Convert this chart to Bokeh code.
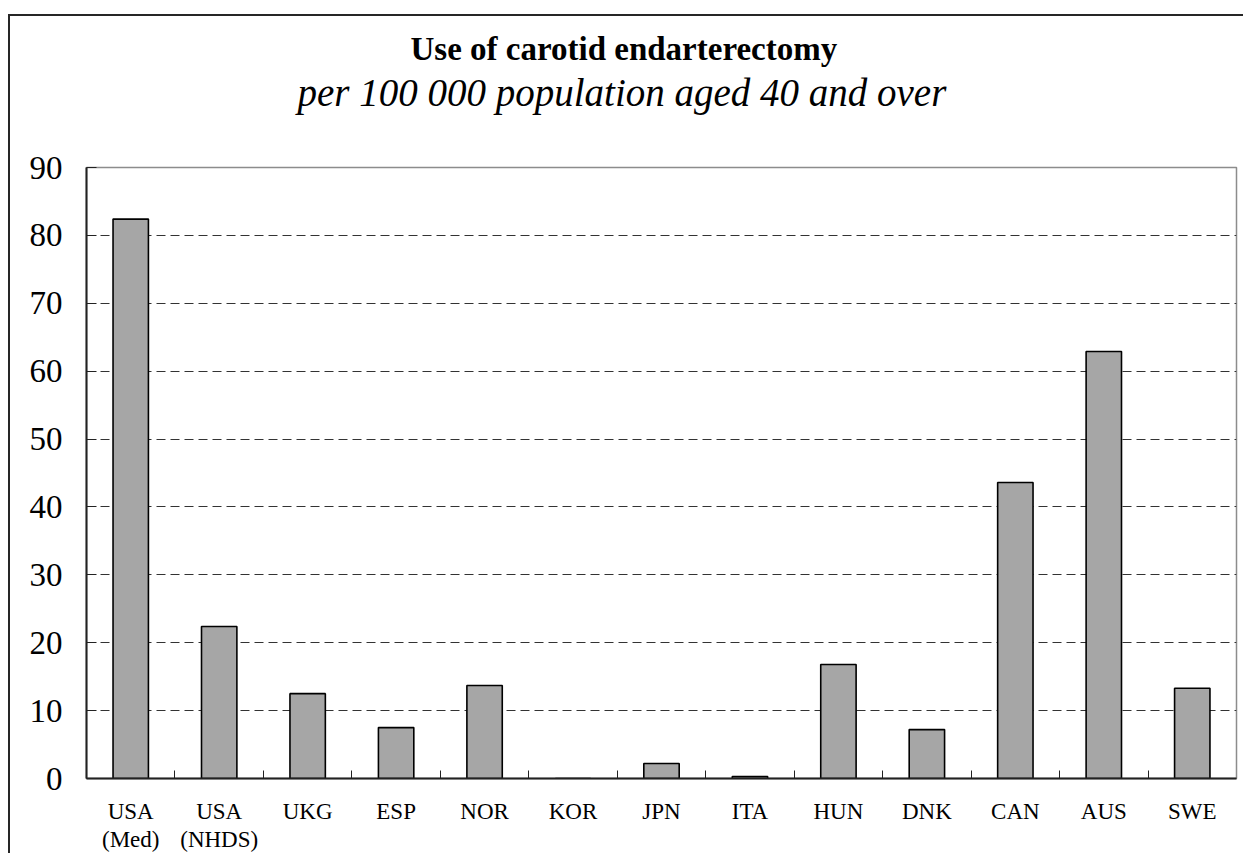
from bokeh.plotting import figure
from bokeh.models import Range1d, FixedTicker, Title
from bokeh.embed import file_html
from bokeh.resources import INLINE

# ---- data ----
countries = ["USA\n(Med)", "USA\n(NHDS)", "UKG", "ESP", "NOR", "KOR", "JPN",
             "ITA", "HUN", "DNK", "CAN", "AUS", "SWE"]
rates = [82.4, 22.4, 12.5, 7.5, 13.7, 0.0, 2.2, 0.3, 16.8, 7.2, 43.6, 62.9, 13.3]
y_ticks = [0, 10, 20, 30, 40, 50, 60, 70, 80, 90]
title_text = "Use of carotid endarterectomy"
subtitle_text = "per 100 000 population aged 40 and over"

FONT = "Liberation Serif"
n = len(countries)
centers = [i + 0.5 for i in range(n)]
bounds = [i for i in range(1, n)]

W, H = 1235, 839
p = figure(width=W, height=H, output_backend="svg", toolbar_location=None,
           x_range=Range1d(0, n), y_range=Range1d(0, y_ticks[-1]),
           min_border_left=76, min_border_right=9, min_border_top=151,
           min_border_bottom=77, background_fill_color="white",
           border_fill_color="white")
p.styles = {"margin-left": "8px", "margin-top": "14px",
            "border-left": "2px solid #262626",
            "border-top": "2px solid #262626"}

p.vbar(x=centers, top=rates, width=0.4, fill_color="#a6a6a6",
       line_color="black", line_width=1.6)

p.outline_line_color = "#8c8c8c"
p.outline_line_width = 1.5

# y axis
ya = p.yaxis[0]
ya.ticker = FixedTicker(ticks=y_ticks)
ya.axis_line_color = "#222222"
ya.axis_line_width = 2
ya.major_tick_in = 10
ya.major_tick_out = 0
ya.major_tick_line_color = "#222222"
ya.minor_tick_line_color = None
ya.major_label_text_font = FONT
ya.major_label_text_font_size = "33px"
ya.major_label_text_color = "black"
ya.major_label_standoff = 24

# x axis
xa = p.xaxis[0]
xa.ticker = FixedTicker(ticks=centers, minor_ticks=bounds)
xa.major_label_overrides = {c: lab for c, lab in zip(centers, countries)}
xa.axis_line_color = "#222222"
xa.axis_line_width = 2
xa.major_tick_line_color = None
xa.minor_tick_line_color = "#222222"
xa.minor_tick_line_width = 1
xa.minor_tick_in = 8
xa.minor_tick_out = 0
xa.major_label_text_font = FONT
xa.major_label_text_font_size = "23px"
xa.major_label_text_color = "black"
xa.major_label_text_line_height = 1.15
xa.major_label_standoff = 14

# grid
p.xgrid.grid_line_color = None
p.ygrid.grid_line_color = "#333333"
p.ygrid.grid_line_dash = "9 5"
p.ygrid.grid_line_width = 1

# main title (outermost)
p.title.text = title_text
p.title.text_font = FONT
p.title.text_font_size = "33px"
p.title.text_font_style = "bold"
p.title.text_color = "black"
p.title.align = "left"
p.title.offset = 324
p.title.standoff = 4

# subtitle (next to the frame), padded below
sub = Title(text=subtitle_text, text_font=FONT, text_font_size="39px",
            text_font_style="italic", text_color="black", align="left",
            offset=211, standoff=0)
try:
    sub.padding = dict(left=0, right=0, top=0, bottom=54)
except Exception:
    sub.standoff = 60
p.add_layout(sub, "above")

open("out.html", "w").write(file_html(p, INLINE))
